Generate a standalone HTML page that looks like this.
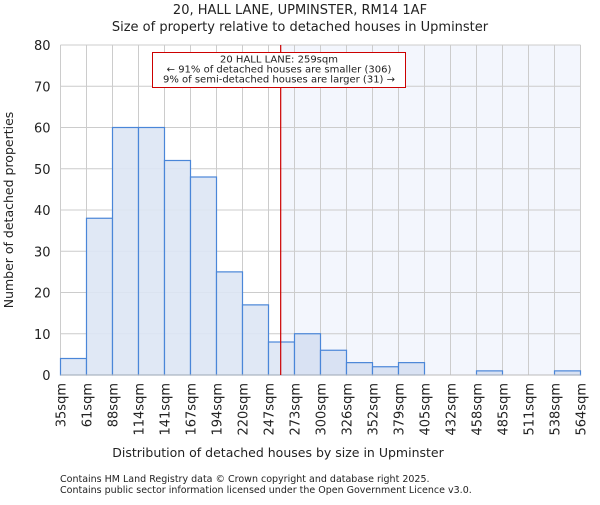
<!DOCTYPE html>
<html><head><meta charset="utf-8"><style>body{margin:0;background:#fff}svg text{font-family:"DejaVu Sans","Liberation Sans",sans-serif;fill:#222}</style></head>
<body>
<svg id="c" width="600" height="500" xmlns="http://www.w3.org/2000/svg">
<text x="300" y="14" text-anchor="middle" font-size="13">20, HALL LANE, UPMINSTER, RM14 1AF</text>
<text x="300" y="31" text-anchor="middle" font-size="13">Size of property relative to detached houses in Upminster</text>
<g id="plot"></g>
<text x="278" y="457" text-anchor="middle" font-size="12.5">Distribution of detached houses by size in Upminster</text>
<text transform="translate(13,210) rotate(-90)" text-anchor="middle" font-size="12.5">Number of detached properties</text>
<text x="60" y="482" font-size="9.5" fill="#444">Contains HM Land Registry data © Crown copyright and database right 2025.</text>
<text x="60" y="493" font-size="9.5" fill="#444">Contains public sector information licensed under the Open Government Licence v3.0.</text>
</svg>
<script>
const binLabels=["35sqm","61sqm","88sqm","114sqm","141sqm","167sqm","194sqm","220sqm","247sqm","273sqm","300sqm","326sqm","352sqm","379sqm","405sqm","432sqm","458sqm","485sqm","511sqm","538sqm","564sqm"];
const counts=[4,38,60,60,52,48,25,17,8,10,6,3,2,3,0,0,1,0,0,1];
const yTicks=[0,10,20,30,40,50,60,70,80];
const propertySize=259;
const binStart=35, binEnd=564;
const X0=60.5,X1=580.5,Y0=375,Y1=45,YMAX=80;
const NS="http://www.w3.org/2000/svg";
const g=document.getElementById('plot');
const bw=(X1-X0)/counts.length;
const xs=v=>X0+(v-binStart)/(binEnd-binStart)*(X1-X0);
const ys=v=>Y0-v/YMAX*(Y0-Y1);
function mk(t,a,p){const e=document.createElementNS(NS,t);for(const k in a)e.setAttribute(k,a[k]);(p||g).appendChild(e);return e;}
const px=xs(propertySize);
const sh=mk('rect',{x:px,y:Y1,width:X1-px,height:Y0-Y1,fill:'#f3f6fd'});


for(let i=0;i<=counts.length;i++){const x=X0+i*bw;const l=mk('line',{x1:x,x2:x,y1:Y1,y2:Y0,stroke:'#ccc'});

}
yTicks.forEach(v=>{const y=ys(v);const l=mk('line',{x1:X0,x2:X1,y1:y,y2:y,stroke:'#ccc'});


const t=mk('text',{x:X0-10,y:y+5,'text-anchor':'end','font-size':13});t.textContent=v;

});
counts.forEach((c,i)=>{const x=X0+i*bw;const r=mk('rect',{x:x,y:ys(c),width:bw,height:Y0-ys(c),fill:(x>=px?'#d6e0f2':'#dde6f4'),'fill-opacity':0.9,stroke:'#4a86d8','stroke-width':1.2});

});
binLabels.forEach((s,i)=>{const x=X0+i*bw;const t=mk('text',{transform:`translate(${x+5},383) rotate(-90)`,'text-anchor':'end','font-size':13});t.textContent=s;

});
const ax=mk('line',{x1:X0,x2:X1,y1:Y0,y2:Y0,stroke:'#bbb'});


const rl=mk('line',{x1:px,x2:px,y1:Y1,y2:Y0,stroke:'#cc0000','stroke-width':1.2});


const box=mk('rect',{x:152.5,y:52.5,width:253,height:35,fill:'#fff',stroke:'#cc0000'});


["20 HALL LANE: 259sqm","← 91% of detached houses are smaller (306)","9% of semi-detached houses are larger (31) →"].forEach((s,i)=>{const t=mk('text',{x:279,y:62.5+i*10,'text-anchor':'middle','font-size':10,textLength:i==0?'':undefined});t.removeAttribute('textLength');t.textContent=s;

});
</script>
</body></html>
